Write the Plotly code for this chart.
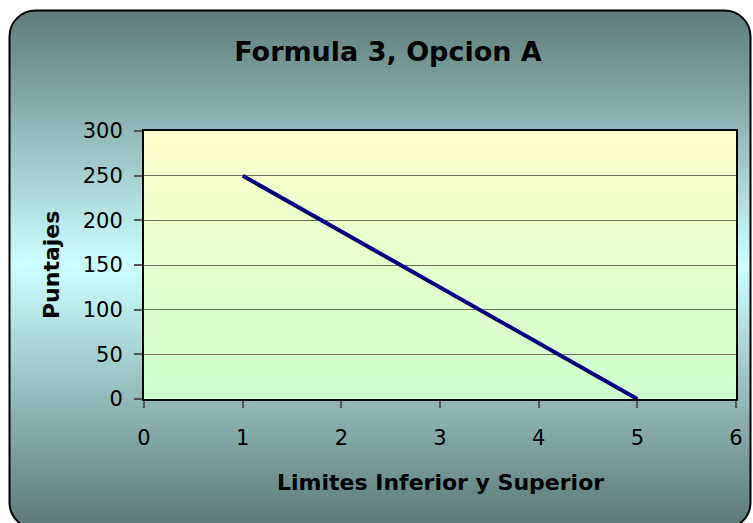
import base64
import plotly.graph_objects as go

# ---- data ----
x_vals = [1, 5]
y_vals = [250, 0]
title_text = "Formula 3, Opcion A"
x_title = "Limites Inferior y Superior"
y_title = "Puntajes"

W, H = 753, 523
ML, MR, MT, MB = 144, 17, 131, 124
PW, PH = W - ML - MR, H - MT - MB

def svg_uri(svg):
    return "data:image/svg+xml;base64," + base64.b64encode(svg.encode()).decode()

bg_svg = f'''<svg xmlns="http://www.w3.org/2000/svg" width="{W}" height="{H}" viewBox="0 0 {W} {H}">
<defs><linearGradient id="g" gradientUnits="userSpaceOnUse" x1="0" y1="10" x2="0" y2="522">
<stop offset="0" stop-color="#5e7b78"/>
<stop offset="0.5" stop-color="#ccffff"/>
<stop offset="1" stop-color="#5e7b78"/>
</linearGradient></defs>
<rect x="9.5" y="10.5" width="741" height="518" rx="26" ry="26" fill="url(#g)" stroke="#000" stroke-width="2"/>
</svg>'''

plot_svg = '''<svg xmlns="http://www.w3.org/2000/svg" width="100" height="100" viewBox="0 0 100 100" preserveAspectRatio="none">
<defs><linearGradient id="p" x1="0" y1="0" x2="0" y2="1">
<stop offset="0" stop-color="#ffffcc"/>
<stop offset="1" stop-color="#ccffcc"/>
</linearGradient></defs>
<rect x="0" y="0" width="100" height="100" fill="url(#p)"/>
</svg>'''

fig = go.Figure()
fig.add_trace(go.Scatter(x=x_vals, y=y_vals, mode="lines",
                         line=dict(color="#000080", width=4), hoverinfo="skip",
                         showlegend=False))

fig.add_layout_image(dict(source=svg_uri(bg_svg), xref="paper", yref="paper",
                          x=-ML / PW, y=1 + MT / PH, sizex=W / PW, sizey=H / PH,
                          xanchor="left", yanchor="top", sizing="stretch", layer="below"))
fig.add_layout_image(dict(source=svg_uri(plot_svg), xref="x domain", yref="y domain",
                          x=0, y=1, sizex=1, sizey=1, xanchor="left", yanchor="top",
                          sizing="stretch", layer="below"))

fig.update_layout(
    template="none",
    width=W, height=H,
    margin=dict(l=ML, r=MR, t=MT, b=MB, pad=0),
    paper_bgcolor="white",
    plot_bgcolor="rgba(0,0,0,0)",
    font=dict(family="DejaVu Sans", size=21, color="black"),
    title=dict(text=f"<b>{title_text}</b>", font=dict(family="DejaVu Sans", size=27, color="black"),
               x=388 / W, xref="container", xanchor="center",
               y=1 - 52 / H, yref="container", yanchor="middle"),
    xaxis=dict(range=[0, 6], dtick=1, tick0=0, showgrid=False, zeroline=False,
               showline=True, linecolor="black", linewidth=2, mirror=True,
               ticks="outside", ticklen=7, tickwidth=1.5, tickcolor="#555555",
               ticklabelstandoff=12, tickfont=dict(size=21)),
    yaxis=dict(range=[0, 300], dtick=50, tick0=0, showgrid=True, gridcolor="#70705a",
               gridwidth=1.2, zeroline=False,
               showline=True, linecolor="black", linewidth=2, mirror=True,
               ticks="outside", ticklen=8, tickwidth=1.5, tickcolor="#555555",
               ticklabelstandoff=7, tickfont=dict(size=21)),
    annotations=[
        dict(text=f"<b>{x_title}</b>", xref="paper", yref="paper",
             x=0.5, y=(399 - 482) / PH, xanchor="center", yanchor="middle",
             showarrow=False, font=dict(family="DejaVu Sans", size=22, color="black")),
        dict(text=f"<b>{y_title}</b>", xref="paper", yref="paper",
             x=(51 - ML) / PW, y=0.5, xanchor="center", yanchor="middle", textangle=-90,
             showarrow=False, font=dict(family="DejaVu Sans", size=22, color="black")),
    ],
)

fig.write_html("out.html", config={"displayModeBar": False},
               post_script="document.body.style.margin='0';document.body.style.padding='0';")
